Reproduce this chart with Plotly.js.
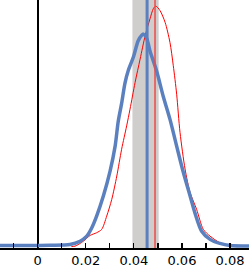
<!DOCTYPE html>
<html>
<head>
<meta charset="utf-8">
<script src="https://cdn.plot.ly/plotly-3.0.1.min.js"></script>
<style>html,body{margin:0;padding:0;background:#fff;}#chart{width:249px;height:267px;}</style>
</head>
<body>
<div id="chart"></div>
<script>
// Blue density curve (x value, density)
const blueX = [-0.0157, -0.005, 0.005, 0.0134, 0.0176, 0.0204, 0.0225, 0.0245, 0.0273, 0.0301, 0.0322, 0.0335, 0.0349, 0.0363, 0.0377, 0.0398, 0.0418, 0.0433, 0.0439, 0.0453, 0.0467, 0.0495, 0.0522, 0.0550, 0.0578, 0.0606, 0.0634, 0.0654, 0.0682, 0.0717, 0.0758, 0.0800, 0.0879];
const blueY = [0.2, 0.2, 0.25, 0.39, 1.04, 2.03, 3.68, 5.96, 9.9, 14.8, 19.7, 24.6, 28.1, 32.1, 34.6, 37.2, 40.4, 41.5, 41.7, 40.9, 38.4, 34.4, 29.5, 25.0, 19.7, 14.5, 9.9, 6.6, 3.0, 1.4, 0.6, 0.2, 0.1];
// Red density curve
const redX = [0.0140, 0.0155, 0.0190, 0.0218, 0.0245, 0.0266, 0.0287, 0.0308, 0.0329, 0.0349, 0.0370, 0.0384, 0.0405, 0.0426, 0.0447, 0.0467, 0.0481, 0.0491, 0.0509, 0.0530, 0.0550, 0.0564, 0.0578, 0.0592, 0.0613, 0.0634, 0.0661, 0.0689, 0.0717, 0.0758, 0.0800];
const redY = [0, 0.06, 1.04, 2.17, 2.70, 3.35, 5.96, 9.25, 13.84, 19.09, 23.68, 26.97, 32.2, 36.8, 41.4, 44.7, 46.7, 47.2, 46.3, 44.0, 40.1, 35.5, 29.9, 22.4, 15.2, 10.6, 7.3, 3.35, 2.03, 0.73, 0.06];
// Interval band and means
const bandLow = 0.0394;
const bandHigh = 0.0503;
const blueMean = 0.0455;
const redMean = 0.0488;
const xTickVals = [0, 0.02, 0.04, 0.06, 0.08];
const xTickText = ['0', '0.02', '0.04', '0.06', '0.08'];
const xMinorVals = [-0.01, 0.01, 0.03, 0.05, 0.07];

const blue = '#5B80BF';
const red = '#FF0000';

const traces = [
  {x: redX, y: redY, mode: 'lines', line: {color: red, width: 1, shape: 'spline', smoothing: 0.8}, hoverinfo: 'skip'},
  {x: blueX, y: blueY, mode: 'lines', line: {color: blue, width: 3.5, shape: 'spline', smoothing: 0.8}, hoverinfo: 'skip'}
];

const layout = {
  width: 249, height: 267,
  margin: {l: 0, r: 0, t: 0, b: 19},
  paper_bgcolor: '#fff', plot_bgcolor: '#fff',
  showlegend: false,
  font: {family: 'DejaVu Sans, sans-serif', size: 13, color: '#000'},
  xaxis: {
    range: [-0.0157, 0.0879],
    tickvals: xTickVals, ticktext: xTickText,
    ticks: 'inside', ticklen: 5, tickwidth: 1.2, tickcolor: '#000',
    minor: {tickvals: xMinorVals, ticks: 'inside', ticklen: 5, tickwidth: 1.2, tickcolor: '#000', showgrid: false},
    showgrid: false,
    showline: true, linecolor: '#000', linewidth: 1.5,
    zeroline: true, zerolinecolor: '#000', zerolinewidth: 2,
    tickfont: {family: 'DejaVu Sans, sans-serif', size: 13, color: '#000'}
  },
  yaxis: {
    range: [-0.3, 48.4], visible: false, showgrid: false, zeroline: false
  },
  shapes: [
    {type: 'rect', xref: 'x', yref: 'paper', x0: bandLow, x1: bandHigh, y0: 0, y1: 1, fillcolor: '#D0CDCD', line: {width: 0}, layer: 'below'},
    {type: 'line', xref: 'x', yref: 'paper', x0: redMean, x1: redMean, y0: 0, y1: 1, line: {color: '#F04848', width: 1.5}, layer: 'above'},
    {type: 'line', xref: 'x', yref: 'paper', x0: blueMean, x1: blueMean, y0: 0, y1: 1, line: {color: blue, width: 3}, layer: 'above'}
  ]
};

Plotly.newPlot('chart', traces, layout, {staticPlot: true, displayModeBar: false});
</script>
</body>
</html>
